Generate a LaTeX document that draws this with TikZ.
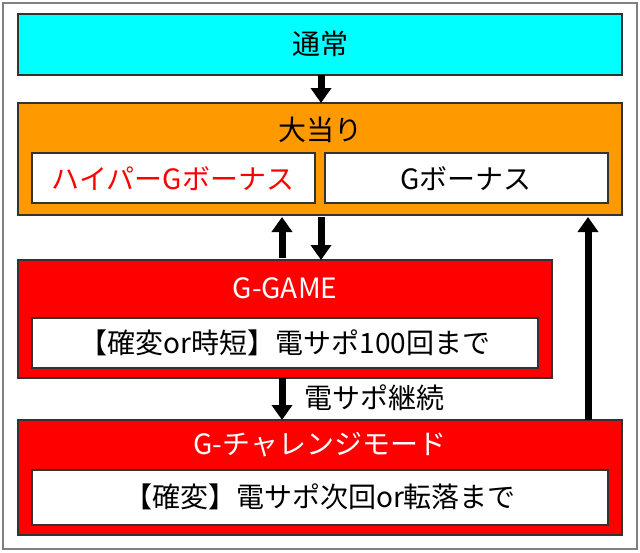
\documentclass[tikz,border=0pt]{standalone}
\usepackage{fontspec}
\setmainfont{Noto Sans CJK JP}
\usetikzlibrary{arrows.meta}
\definecolor{cyanbox}{RGB}{0,255,255}
\definecolor{orangebox}{RGB}{255,153,0}
\definecolor{redbox}{RGB}{255,0,0}
\tikzset{
  box/.style={draw=black!80, line width=1.5pt},
  txt/.style={font=\fontsize{28}{30}\selectfont, inner sep=0pt},
  arr/.style={line width=7pt, -{Triangle[width=20pt,length=15pt]}},
}
\begin{document}
\begin{tikzpicture}[x=1pt,y=-1pt]
\useasboundingbox (0,0) rectangle (640,552);
\draw[gray, line width=2pt, fill=white] (3,3) rectangle (637,549);
% boxes
\draw[box, fill=cyanbox] (18,14) rectangle (622,75);
\node[txt] (normal) at (320,44) {通常};
\coordinate (nb) at (321,75);
\draw[box, fill=orangebox] (18,103) rectangle (622,215);
\node[txt] (oa) at (320,130) {大当り};
\coordinate (oat) at (321,103);
\draw[box, fill=white] (32,153) rectangle (315,203);
\node[txt, text=redbox] (hyper) at (173,179) {ハイパーGボーナス};
\draw[box, fill=white] (325,153) rectangle (608,203);
\node[txt] (gb) at (466,179) {Gボーナス};
\draw[box, fill=redbox] (18,260) rectangle (552,378);
\node[txt, text=white] (gg) at (285,288) {G-GAME};
\draw[box, fill=white] (32,318) rectangle (538,368);
\node[txt] (ggi) at (285,343) {【確変or時短】電サポ100回まで};
\draw[box, fill=redbox] (18,420) rectangle (622,535);
\node[txt, text=white] (gc) at (320,445) {G-チャレンジモード};
\draw[box, fill=white] (32,470) rectangle (608,525);
\node[txt] (gci) at (320,497) {【確変】電サポ次回or転落まで};
% connectors
\coordinate (a1s) at (282,258); \coordinate (a1e) at (282,217);
\coordinate (a2s) at (321,217); \coordinate (a2e) at (321,260);
\coordinate (a3s) at (282,378); \coordinate (a3e) at (282,420);
\coordinate (a4s) at (588,420); \coordinate (a4e) at (588,217);
\draw[arr] (nb) -- (oat);
\draw[arr] (a1s) -- (a1e);
\draw[arr] (a2s) -- (a2e);
\draw[arr] (a3s) -- (a3e);
\draw[arr] (a4s) -- (a4e);
\node[txt, anchor=west] (cont) at (304,398) {電サポ継続};
\end{tikzpicture}
\end{document}
